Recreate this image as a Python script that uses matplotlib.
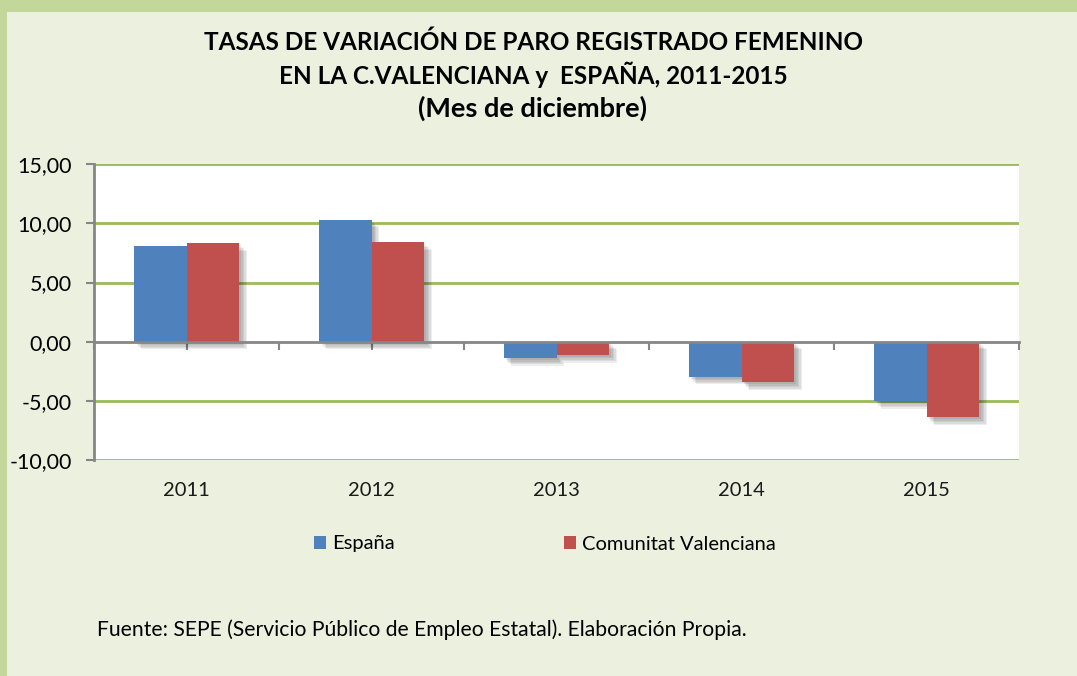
import matplotlib
matplotlib.use("Agg")
import matplotlib.pyplot as plt
import matplotlib.patheffects as pe
from matplotlib.patches import Rectangle, Patch
from matplotlib.transforms import blended_transform_factory
import numpy as np

years = ['2011', '2012', '2013', '2014', '2015']
espana = [8.09, 10.31, -1.38, -2.96, -5.01]
cvalenciana = [8.32, 8.40, -1.12, -3.43, -6.39]
series_names = ['España', 'Comunitat Valenciana']
yticks = [-10, -5, 0, 5, 10, 15]

title_lines = ['TASAS DE VARIACIÓN DE PARO REGISTRADO FEMENINO',
               'EN LA C.VALENCIANA y  ESPAÑA, 2011-2015',
               '(Mes de diciembre)']
fuente = 'Fuente: SEPE (Servicio Público de Empleo Estatal). Elaboración Propia.'

blue = '#4F81BD'
red = '#C0504D'
green = '#9BBB59'
bg = '#EBF0DF'
border = '#C4D79B'
axgray = '#868686'

plt.rcParams['font.family'] = ['Lato', 'DejaVu Sans']

W, H = 1077, 676
fig = plt.figure(figsize=(W / 100, H / 100), dpi=100)
fig.patch.set_facecolor(bg)

# green frame on left and top
fig.patches.append(Rectangle((0, 0), 7 / W, 1, transform=fig.transFigure,
                             facecolor=border, edgecolor='none', zorder=0))
fig.patches.append(Rectangle((0, 1 - 12 / H), 1, 12 / H, transform=fig.transFigure,
                             facecolor=border, edgecolor='none', zorder=0))

left, right, top, bottom = 94, 1019, 164.3, 460
ax = fig.add_axes([left / W, 1 - bottom / H, (right - left) / W, (bottom - top) / H])
ax.set_facecolor('white')

x = np.arange(len(years))
w = 0.286

shadow = [pe.SimplePatchShadow(offset=(o, -o), shadow_rgbFace='black', alpha=0.07)
          for o in (1.5, 2.5, 3.5, 4.5, 5.5)] + [pe.Normal()]

ax.bar(x - w / 2, espana, w, color=blue, zorder=3, path_effects=shadow)
ax.bar(x + w / 2, cvalenciana, w, color=red, zorder=3, path_effects=shadow)

ax.set_xlim(-0.5, len(years) - 0.5)
ax.set_ylim(-10, 15)

for v in yticks:
    if v != 0:
        ax.axhline(v, color=green, lw=2, zorder=1)

ax.set_yticks(yticks)
ax.set_yticklabels([f'{v:.2f}'.replace('.', ',') for v in yticks], fontsize=15.5)
ax.tick_params(axis='y', direction='out', length=6, width=1.5, color=axgray, pad=10)

ax.spines['bottom'].set_position(('data', 0))
ax.spines['bottom'].set_color(axgray)
ax.spines['bottom'].set_linewidth(2)
ax.spines['bottom'].set_zorder(4)
ax.spines['left'].set_color(axgray)
ax.spines['left'].set_linewidth(2)
ax.spines['top'].set_visible(False)
ax.spines['right'].set_visible(False)

ax.set_xticks(np.arange(-0.5, len(years), 0.5))
ax.set_xticklabels([])
ax.tick_params(axis='x', direction='out', length=6, width=1.5, color=axgray)

trans = blended_transform_factory(ax.transData, ax.transAxes)
for xi, yr in zip(x, years):
    ax.text(xi, -30 / (bottom - top), yr, transform=trans, ha='center', va='center',
            fontsize=14.5, color='#1a1a1a')

# title, one line at a time
for ty, fs, line in zip([42, 75, 108], [17.5, 17.5, 19.5], title_lines):
    fig.text(533 / W, 1 - ty / H, line, ha='center', va='center', fontsize=fs,
             fontweight='bold', color='black')

handles = [Patch(facecolor=blue), Patch(facecolor=red)]
fig.legend(handles, series_names, loc='center', bbox_to_anchor=(545 / W, 1 - 544 / H),
           ncol=2, frameon=False, fontsize=14.5, handlelength=0.6, handleheight=0.6,
           handletextpad=0.3, columnspacing=8.4)

fig.text(97 / W, 1 - 630 / H, fuente, ha='left', va='center', fontsize=15.2, color='black')

fig.savefig('out.png', dpi=100, facecolor=fig.get_facecolor())
